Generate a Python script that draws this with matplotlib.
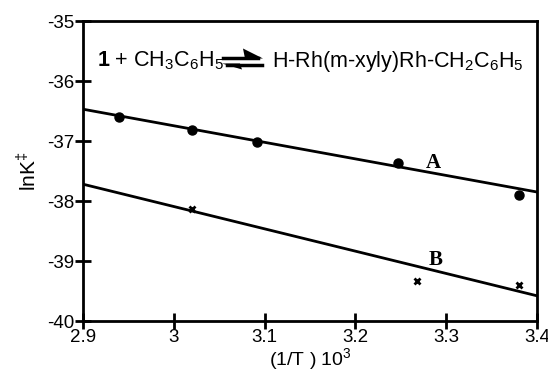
import matplotlib
matplotlib.use("Agg")
import matplotlib.pyplot as plt
from matplotlib.patches import Polygon
from matplotlib.lines import Line2D
import numpy as np

# Data
x_A = [2.94, 3.02, 3.092, 3.247, 3.38]
y_A = [-36.60, -36.82, -37.02, -37.37, -37.90]
x_B = [3.02, 3.268, 3.38]
y_B = [-38.13, -39.33, -39.40]
fit_x = [2.9, 3.4]
fit_A = [-36.47, -37.85]
fit_B = [-37.72, -39.58]
xticks = [2.9, 3.0, 3.1, 3.2, 3.3, 3.4]
xticklabels = ["2.9", "3", "3.1", "3.2", "3.3", "3.4"]
yticks = [-40, -39, -38, -37, -36, -35]
yticklabels = ["-40", "-39", "-38", "-37", "-36", "-35"]

plt.rcParams['font.family'] = ['Liberation Sans', 'DejaVu Sans']
plt.rcParams['mathtext.fontset'] = 'custom'
plt.rcParams['mathtext.rm'] = 'Liberation Sans'
plt.rcParams['mathtext.bf'] = 'Liberation Sans:bold'
plt.rcParams['axes.unicode_minus'] = False

W, H = 548, 372
fig = plt.figure(figsize=(W/100, H/100), dpi=100)
ax = fig.add_axes([83/W, 51/H, 454/W, 300/H])

ax.plot(fit_x, fit_A, color='black', lw=2)
ax.plot(fit_x, fit_B, color='black', lw=2)
ax.plot(x_A, y_A, 'o', color='black', ms=6.5)
ax.plot(x_B, y_B, 'x', color='black', ms=4, mew=2)

ax.set_xlim(2.9, 3.4)
ax.set_ylim(-40, -35)
ax.set_xticks(xticks)
ax.set_xticklabels(xticklabels)
ax.set_yticks(yticks)
ax.set_yticklabels(yticklabels)
for s in ax.spines.values():
    s.set_linewidth(2)
ax.tick_params(direction='inout', length=12, width=2, labelsize=13.5, pad=0)

ax.text(3.286, -37.37, 'A', fontfamily='Liberation Serif', fontweight='bold', fontsize=15, ha='center', va='center')
ax.text(3.288, -38.98, 'B', fontfamily='Liberation Serif', fontweight='bold', fontsize=15, ha='center', va='center')

def px(x, y):
    return (x / W, 1 - y / H)

fig.text(*px(97, 61), r'$\mathbf{1}$ + CH$_3$C$_6$H$_5$', fontsize=15.5, ha='left', va='center')
fig.text(*px(272, 61), r'H-Rh(m-xyly)Rh-CH$_2$C$_6$H$_5$', fontsize=15.5, ha='left', va='center')

# equilibrium arrow glyph (drawn)
fig.add_artist(Line2D([px(223, 57.5)[0], px(258, 57.5)[0]], [px(223, 57.5)[1]] * 2, color='black', lw=2.5))
fig.add_artist(Polygon([px(243, 48.5), px(263, 58.5), px(245, 58.5)], closed=True, color='black', lw=0))
fig.add_artist(Line2D([px(227, 64.5)[0], px(262, 64.5)[0]], [px(227, 64.5)[1]] * 2, color='black', lw=2.5))
fig.add_artist(Polygon([px(222, 63.5), px(240, 63.5), px(242, 69.5)], closed=True, color='black', lw=0))

ax.set_ylabel('lnK$^{‡}$', fontsize=15, labelpad=6)
fig.text(*px(310, 360), '(1/T ) 10$^3$', fontsize=14, ha='center', va='center')

fig.savefig('out.png', dpi=100)
